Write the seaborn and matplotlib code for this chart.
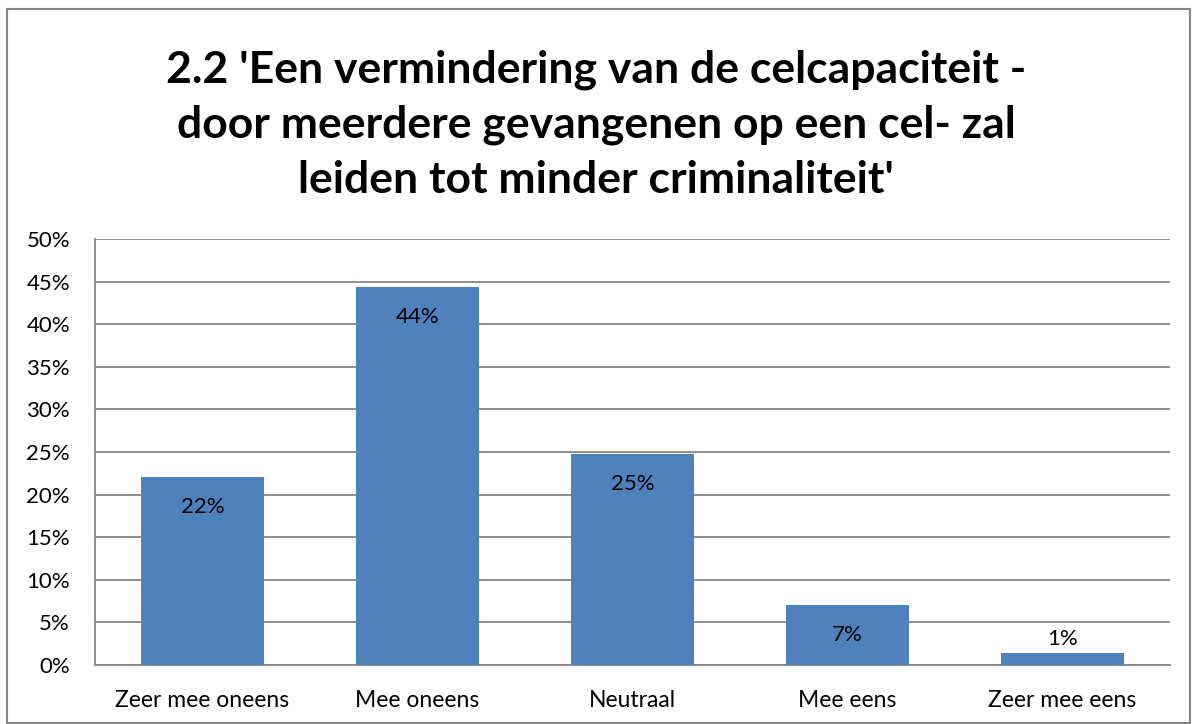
import matplotlib
matplotlib.use("Agg")
import matplotlib.pyplot as plt
import pandas as pd
import seaborn as sns
from matplotlib.patches import Rectangle

categories = ["Zeer mee oneens", "Mee oneens", "Neutraal", "Mee eens", "Zeer mee eens"]
values = [22.1, 44.4, 24.8, 7.1, 1.4]
labels = ["22%", "44%", "25%", "7%", "1%"]
title_lines = ["2.2 'Een vermindering van de celcapaciteit -",
               "door meerdere gevangenen op een cel- zal",
               "leiden tot minder criminaliteit'"]

df = pd.DataFrame({"cat": categories, "val": values})

sns.set_style("white")
plt.rcParams["font.family"] = ["Lato", "DejaVu Sans"]

fig = plt.figure(figsize=(11.92, 7.24), dpi=100)
ax = fig.add_axes([95 / 1192, 1 - 665 / 724, 1075 / 1192, 426 / 724])

sns.barplot(data=df, x="cat", y="val", color="#4F81BD", saturation=1,
            width=0.57, ax=ax, zorder=3, edgecolor="none", linewidth=0)

ax.set_ylim(0, 50)
ax.set_yticks(range(0, 51, 5))
ax.set_yticklabels([f"{t}%" for t in range(0, 51, 5)], fontsize=16, color="black")
ax.set_xticks(range(len(categories)))
ax.set_xticklabels(categories, fontsize=16.5, color="black")
ax.set_xlabel("")
ax.set_ylabel("")
ax.tick_params(axis="y", length=0, pad=18)
ax.tick_params(axis="x", length=0, pad=18)
ax.yaxis.grid(True, color="#868686", linewidth=1.3, zorder=0)
ax.set_axisbelow(True)
for s in ["top", "right"]:
    ax.spines[s].set_visible(False)
for s in ["left", "bottom"]:
    ax.spines[s].set_color("#868686")
    ax.spines[s].set_linewidth(1.3)

for i, (v, lab) in enumerate(zip(values, labels)):
    if v < 3:
        ax.text(i, v + 1.6, lab, ha="center", va="center", fontsize=16,
                color="black", zorder=4)
    else:
        ax.text(i, v - 3.6, lab, ha="center", va="center", fontsize=16,
                color="black", zorder=4)

for k, line in enumerate(title_lines):
    fig.text(0.5, 1 - (70 + 55 * k) / 724, line, ha="center", va="center",
             fontsize=32, fontweight="bold", color="black")

fig.patches.append(Rectangle((7 / 1192, 1 / 724), 1183 / 1192, 714 / 724,
                             transform=fig.transFigure, fill=False,
                             edgecolor="#868686", linewidth=1.5))

fig.savefig("out.png", dpi=100)
